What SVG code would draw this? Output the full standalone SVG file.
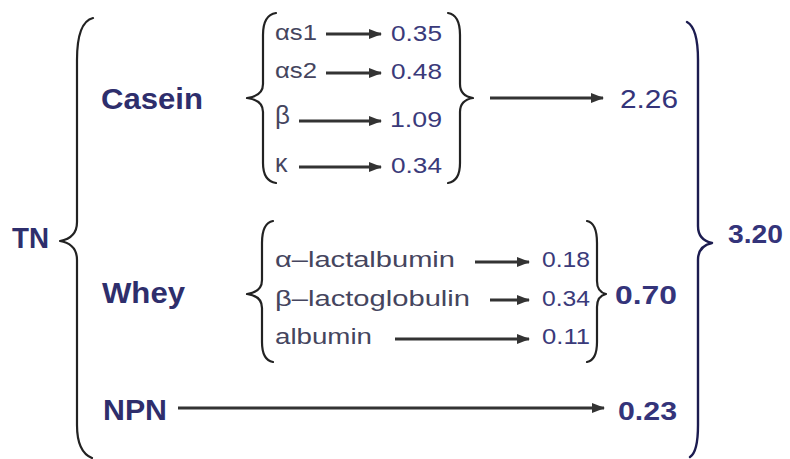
<svg xmlns="http://www.w3.org/2000/svg" width="790" height="459" viewBox="0 0 790 459">
<style>
.bg{fill:#ffffff}
.br{fill:none;stroke:#222222;stroke-width:2.2;stroke-linecap:round;stroke-linejoin:round}
.brn{fill:none;stroke:#1c1c50;stroke-width:2.4;stroke-linecap:round;stroke-linejoin:round}
.ar{stroke:#333333;stroke-width:3.2;fill:none}
.lab{font-family:"Liberation Sans",Arial,sans-serif;font-weight:bold;font-size:29px;fill:#2e2e6c}
.val{font-family:"Liberation Sans",Arial,sans-serif;font-size:22px;fill:#3a3a7a}
.sub{font-family:"Liberation Sans",Arial,sans-serif;font-size:22px;fill:#45455e}
.tot{font-family:"Liberation Sans",Arial,sans-serif;font-weight:bold;font-size:25px;fill:#34347a}
</style>
<defs>
<marker id="ah" viewBox="0 0 13 10" refX="12" refY="5" markerWidth="13" markerHeight="10" markerUnits="userSpaceOnUse" orient="auto">
<path d="M0,0 L13,5 L0,10 Z" fill="#333333"/>
</marker>
</defs>
<rect class="bg" x="0" y="0" width="790" height="459"/>

<g id="braces">
<path class="br" d="M93,18 Q77,22 77,60 L77,222 Q77,238 60,241 Q77,244 77,260 L77,425 Q77,452 92,458"/>
<path class="brn" d="M687,22 Q698,28 698,60 L698,226 Q698,240 712,243 Q698,246 698,260 L698,425 Q698,452 690,457"/>
<path class="br" d="M276,13 Q263,15 263,35 L263,84 Q263,96 247,98 Q263,100 263,112 L263,163 Q263,181 276,183"/>
<path class="br" d="M448,13 Q460,15 460,35 L460,84 Q460,96 473,98 Q460,100 460,112 L460,163 Q460,181 448,183"/>
<path class="br" d="M273,221 Q262,223 262,243 L262,280 Q262,292 247,294 Q262,296 262,308 L262,342 Q262,360 273,362"/>
<path class="br" d="M587,221 Q597,223 597,243 L597,281 Q597,292 606,294 Q597,296 597,307 L597,342 Q597,360 587,362"/>
</g>

<g id="connectors">
<line class="ar" x1="326" y1="34" x2="381" y2="34" marker-end="url(#ah)"/>
<line class="ar" x1="326" y1="73" x2="381" y2="73" marker-end="url(#ah)"/>
<line class="ar" x1="299" y1="121" x2="381" y2="121" marker-end="url(#ah)"/>
<line class="ar" x1="299" y1="167" x2="381" y2="167" marker-end="url(#ah)"/>
<line class="ar" x1="490" y1="98" x2="603" y2="98" marker-end="url(#ah)"/>
<line class="ar" x1="475" y1="262" x2="529" y2="262" marker-end="url(#ah)"/>
<line class="ar" x1="490" y1="300" x2="529" y2="300" marker-end="url(#ah)"/>
<line class="ar" x1="395" y1="339" x2="529" y2="339" marker-end="url(#ah)"/>
<line class="ar" x1="178" y1="408" x2="604" y2="408" marker-end="url(#ah)"/>
</g>

<g id="tn"><text class="lab" x="12" y="248" textLength="37" lengthAdjust="spacingAndGlyphs">TN</text></g>
<g id="casein"><text class="lab" x="101" y="109" textLength="102" lengthAdjust="spacingAndGlyphs">Casein</text></g>
<g id="whey"><text class="lab" x="102" y="303" textLength="83" lengthAdjust="spacingAndGlyphs">Whey</text></g>
<g id="npn"><text class="lab" x="103" y="420" textLength="64" lengthAdjust="spacingAndGlyphs">NPN</text></g>

<g id="as1"><text class="sub" x="275" y="40" textLength="42" lengthAdjust="spacingAndGlyphs">αs1</text><text class="val" x="391" y="41" textLength="51" lengthAdjust="spacingAndGlyphs">0.35</text></g>
<g id="as2"><text class="sub" x="275" y="78" textLength="42" lengthAdjust="spacingAndGlyphs">αs2</text><text class="val" x="391" y="79" textLength="51" lengthAdjust="spacingAndGlyphs">0.48</text></g>
<g id="beta"><text class="sub" x="275" y="124" style="font-size:26px">β</text><text class="val" x="390" y="127" textLength="52" lengthAdjust="spacingAndGlyphs">1.09</text></g>
<g id="kappa"><text class="sub" x="275" y="172" style="font-size:25px">κ</text><text class="val" x="391" y="173" textLength="51" lengthAdjust="spacingAndGlyphs">0.34</text></g>

<g id="alac"><text class="sub" x="275" y="267" textLength="180" lengthAdjust="spacingAndGlyphs">α–lactalbumin</text><text class="val" x="542" y="267" textLength="48" lengthAdjust="spacingAndGlyphs">0.18</text></g>
<g id="blg"><text class="sub" x="275" y="306" textLength="195" lengthAdjust="spacingAndGlyphs">β–lactoglobulin</text><text class="val" x="542" y="306" textLength="48" lengthAdjust="spacingAndGlyphs">0.34</text></g>
<g id="alb"><text class="sub" x="275" y="344" textLength="97" lengthAdjust="spacingAndGlyphs">albumin</text><text class="val" x="542" y="344" textLength="48" lengthAdjust="spacingAndGlyphs">0.11</text></g>

<g id="v226"><text class="tot" x="620" y="108" textLength="58" lengthAdjust="spacingAndGlyphs" style="font-weight:normal;font-size:26px">2.26</text></g>
<g id="v070"><text class="tot" x="615" y="304" textLength="62" lengthAdjust="spacingAndGlyphs">0.70</text></g>
<g id="v023"><text class="tot" x="618" y="420" textLength="59" lengthAdjust="spacingAndGlyphs">0.23</text></g>
<g id="v320"><text class="tot" x="728" y="243" textLength="55" lengthAdjust="spacingAndGlyphs">3.20</text></g>
</svg>
